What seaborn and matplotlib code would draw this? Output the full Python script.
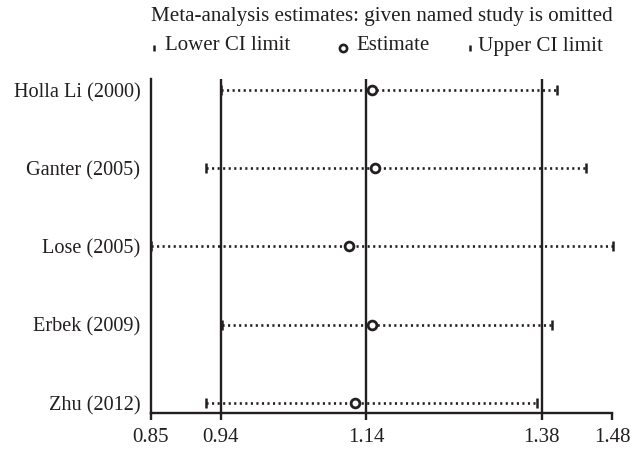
import matplotlib
matplotlib.use("Agg")
import matplotlib.pyplot as plt
from matplotlib.lines import Line2D
import seaborn as sns
import pandas as pd

studies = ["Holla Li (2000)", "Ganter (2005)", "Lose (2005)", "Erbek (2009)", "Zhu (2012)"]
lower = [0.946, 0.925, 0.851, 0.948, 0.925]
estimate = [1.152, 1.156, 1.121, 1.152, 1.129]
upper = [1.405, 1.444, 1.481, 1.397, 1.377]
ref_lines = [0.9455, 1.1438, 1.3836]
tick_values = [0.85, 0.9455, 1.1438, 1.3836, 1.48]
tick_labels = ["0.85", "0.94", "1.14", "1.38", "1.48"]

INK = "#231f20"
FS = 15

sns.set_theme(style="white")
plt.rcParams["font.family"] = ["Liberation Serif", "DejaVu Serif"]
plt.rcParams["text.color"] = INK

df = pd.DataFrame({"study": studies, "pos": range(len(studies)),
                   "lower": lower, "estimate": estimate, "upper": upper})

fig = plt.figure(figsize=(6.31, 4.49), dpi=100)
ax = fig.add_axes([0.2388, 0.0802, 0.7316, 0.7439])

for x in ref_lines:
    ax.axvline(x, color=INK, lw=1.7, zorder=1)

ax.hlines(df["pos"], df["lower"], df["upper"], colors=INK, lw=1.9,
          linestyles=(0, (0.8, 1.3)), zorder=2, clip_on=False)
ax.plot(df["lower"], df["pos"], ls="none", marker="|", ms=6.5, mew=1.8,
        color=INK, zorder=3, clip_on=False)
ax.plot(df["upper"], df["pos"], ls="none", marker="|", ms=6.5, mew=1.8,
        color=INK, zorder=3, clip_on=False)
sns.scatterplot(data=df, x="estimate", y="pos", ax=ax, marker="o", s=40,
                facecolors="white", edgecolor=INK, linewidth=2.0, zorder=4,
                clip_on=False, legend=False)

ax.set_xlim(0.85, 1.48)
ax.set_ylim(4.128, -0.14)
ax.set_xticks(tick_values)
ax.set_xticklabels(tick_labels)
ax.set_yticks(list(df["pos"]))
ax.set_yticklabels(studies)
ax.set_xlabel("")
ax.set_ylabel("")

for side in ["top", "right"]:
    ax.spines[side].set_visible(False)
for side in ["left", "bottom"]:
    ax.spines[side].set_color(INK)
    ax.spines[side].set_linewidth(1.7)

ax.tick_params(axis="x", bottom=True, length=5, width=1.7, color=INK,
               pad=6, labelsize=FS, labelcolor=INK)
ax.tick_params(axis="y", left=False, length=0, pad=7.5, labelsize=14.6,
               labelcolor=INK)

H = 449.0
W = 631.0
fig.text(151 / W, 1 - 16 / H, "Meta-analysis estimates: given named study is omitted",
         ha="left", va="center", fontsize=15.1)

ly = 1 - 46 / H
my = 1 - 47.5 / H
fig.add_artist(Line2D([154 / W], [my], marker="|", ms=5, mew=1.8, color=INK,
                      transform=fig.transFigure))
fig.text(165 / W, ly, "Lower CI limit", ha="left", va="center", fontsize=FS)
fig.add_artist(Line2D([343 / W], [my], marker="o", ms=5.2, mew=1.9, mfc="white",
                      mec=INK, transform=fig.transFigure))
fig.text(356 / W, ly, "Estimate", ha="left", va="center", fontsize=FS)
fig.add_artist(Line2D([470 / W], [my], marker="|", ms=5, mew=1.8, color=INK,
                      transform=fig.transFigure))
fig.text(478 / W, ly, "Upper CI limit", ha="left", va="center", fontsize=15.2)

fig.savefig("out.png", dpi=100)
